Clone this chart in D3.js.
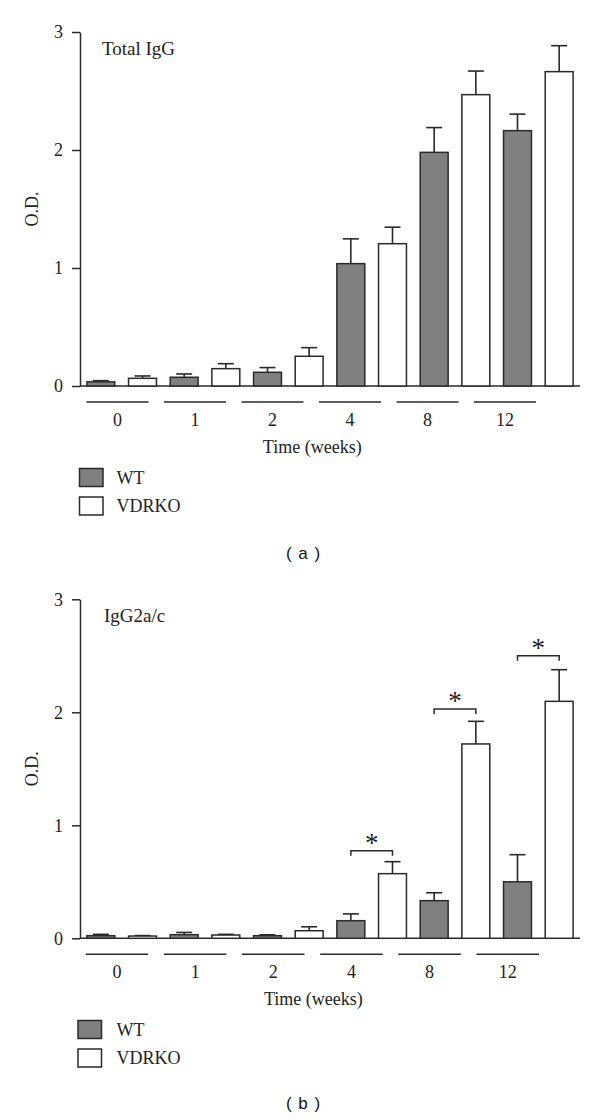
<!DOCTYPE html>
<html><head><meta charset="utf-8">
<script src="https://cdn.jsdelivr.net/npm/d3@7"></script>
<style>body{margin:0;background:#fff}</style>
</head><body>
<svg id="c" width="600" height="1120"></svg>
<script>
const weeks = ["0","1","2","4","8","12"];
const groups = ["WT","VDRKO"];
const yTicks = [0,1,2,3];
const totalWT = [0.035,0.074,0.116,1.037,1.98,2.164];
const totalWTErr = [0.01,0.028,0.04,0.21,0.21,0.14];
const totalKO = [0.065,0.147,0.252,1.206,2.469,2.664];
const totalKOErr = [0.02,0.042,0.073,0.14,0.2,0.22];
const g2WT = [0.023,0.032,0.023,0.156,0.333,0.50];
const g2WTErr = [0.012,0.02,0.008,0.06,0.07,0.24];
const g2KO = [0.02,0.029,0.067,0.572,1.72,2.097];
const g2KOErr = [0.004,0.006,0.035,0.106,0.2,0.28];
const sigWeeks = ["4","8","12"];
const sigLevel = [0.775,2.03,2.50];

const fills = {WT:"#808080", VDRKO:"#ffffff"};
const ink = "#2a2a2a";
const serif = "'Liberation Serif','Times New Roman',serif";
const svg = d3.select("#c");

function panel(cfg){
  const g = svg.append("g");
  const y = d3.scaleLinear().domain([0,3]).range([cfg.yBottom, cfg.yTop]);
  const x0 = d3.scaleBand().domain(weeks).range([80,580]);
  const x1 = d3.scaleBand().domain(groups).range([0,x0.bandwidth()]).paddingInner(0.33).paddingOuter(0.165);
  const xl = d3.scaleBand().domain(weeks).range(cfg.labelRange).paddingInner(0.2).paddingOuter(0.1);
  const rows = [];
  weeks.forEach((w,i)=>{
    rows.push({w, g:"WT", v:cfg.wt[i], e:cfg.wtErr[i]});
    rows.push({w, g:"VDRKO", v:cfg.ko[i], e:cfg.koErr[i]});
  });
  const cx = d => x0(d.w)+x1(d.g)+x1.bandwidth()/2;

  // y axis
  const ax = g.append("g").attr("transform","translate(80,0)")
    .call(d3.axisLeft(y).tickValues(yTicks).tickFormat(d3.format("d")).tickSize(8).tickSizeOuter(0).tickPadding(9));
  ax.selectAll("path,line").attr("stroke",ink).attr("stroke-width",1.5);
  ax.selectAll("text").attr("font-family",serif).attr("font-size",18).attr("fill","#222");
  // baseline
  g.append("line").attr("x1",80).attr("x2",580).attr("y1",y(0)).attr("y2",y(0))
    .attr("stroke",ink).attr("stroke-width",1.5);

  // error bars
  const eb = g.append("g").attr("stroke",ink).attr("stroke-width",1.6);
  eb.selectAll("line.v").data(rows).join("line").attr("class","v")
    .attr("x1",cx).attr("x2",cx).attr("y1",d=>y(d.v)).attr("y2",d=>y(d.v+d.e));
  eb.selectAll("line.c").data(rows).join("line").attr("class","c")
    .attr("x1",d=>cx(d)-8).attr("x2",d=>cx(d)+8).attr("y1",d=>y(d.v+d.e)).attr("y2",d=>y(d.v+d.e));

  // bars
  g.selectAll("rect.bar").data(rows).join("rect").attr("class","bar")
    .attr("x",d=>x0(d.w)+x1(d.g)).attr("width",x1.bandwidth())
    .attr("y",d=>y(d.v)).attr("height",d=>y(0)-y(d.v))
    .attr("fill",d=>fills[d.g]).attr("stroke",ink).attr("stroke-width",1.5);

  // group underlines & labels
  const lineY = y(0)+16;
  g.selectAll("line.grp").data(weeks).join("line").attr("class","grp")
    .attr("x1",d=>xl(d)).attr("x2",d=>xl(d)+xl.bandwidth()).attr("y1",lineY).attr("y2",lineY)
    .attr("stroke",ink).attr("stroke-width",1.5);
  g.selectAll("text.grp").data(weeks).join("text").attr("class","grp")
    .attr("x",d=>xl(d)+xl.bandwidth()/2).attr("y",lineY+18).attr("text-anchor","middle")
    .attr("dominant-baseline","central").attr("font-family",serif).attr("font-size",18).attr("fill","#222").text(d=>d);
  const range = cfg.labelRange;
  g.append("text").attr("x",(range[0]+range[1])/2+1).attr("y",lineY+44.5).attr("text-anchor","middle")
    .attr("dominant-baseline","central").attr("font-family",serif).attr("font-size",18).attr("fill","#222").text("Time (weeks)");

  // y title
  g.append("text").attr("transform",`translate(32,${(cfg.yTop+cfg.yBottom)/2}) rotate(-90)`)
    .attr("text-anchor","middle").attr("dominant-baseline","central")
    .attr("font-family",serif).attr("font-size",18).attr("fill","#222").text("O.D.");
  // panel title
  g.append("text").attr("x",cfg.titleX).attr("y",cfg.yTop+16).attr("dominant-baseline","central")
    .attr("font-family",serif).attr("font-size",19).attr("fill","#222").text(cfg.title);

  // significance
  if(cfg.sig){
    cfg.sig.weeks.forEach((w,i)=>{
      const a = x0(w)+x1("WT")+x1.bandwidth()/2, b = x0(w)+x1("VDRKO")+x1.bandwidth()/2;
      const yy = y(cfg.sig.level[i]);
      g.append("path").attr("d",`M${a},${yy+5}V${yy}H${b}V${yy+5}`)
        .attr("fill","none").attr("stroke",ink).attr("stroke-width",1.5);
      g.append("text").attr("x",(a+b)/2).attr("y",yy+1).attr("text-anchor","middle")
        .attr("font-family",serif).attr("font-size",27).attr("fill","#222").text("*");
    });
  }

  // legend
  const ly = cfg.legendY;
  groups.forEach((s,i)=>{
    g.append("rect").attr("x",cfg.legendX).attr("y",ly+i*28.5).attr("width",23.5).attr("height",18)
      .attr("fill",fills[s]).attr("stroke",ink).attr("stroke-width",1.5);
    g.append("text").attr("x",116.5).attr("y",ly+i*28.5+9).attr("dominant-baseline","central")
      .attr("font-family",serif).attr("font-size",18).attr("fill","#222").text(s);
  });
  g.append("text").attr("x",303).attr("y",cfg.capY).attr("text-anchor","middle").attr("dominant-baseline","central")
    .attr("font-family","'Liberation Sans',Arial,sans-serif").attr("font-size",17).attr("word-spacing",2)
    .attr("fill","#111").text(cfg.caption);
}

panel({yTop:32, yBottom:386, labelRange:[78.75,543.75], wt:totalWT, wtErr:totalWTErr, ko:totalKO, koErr:totalKOErr,
  title:"Total IgG", titleX:102, legendX:79.5, legendY:468.5, capY:553, caption:"( a )"});
panel({yTop:599.3, yBottom:938.3, labelRange:[77.9,546.8], wt:g2WT, wtErr:g2WTErr, ko:g2KO, koErr:g2KOErr,
  title:"IgG2a/c", titleX:104, legendX:78, legendY:1020.5, capY:1103, caption:"( b )",
  sig:{weeks:sigWeeks, level:sigLevel}});
</script>
</body></html>
